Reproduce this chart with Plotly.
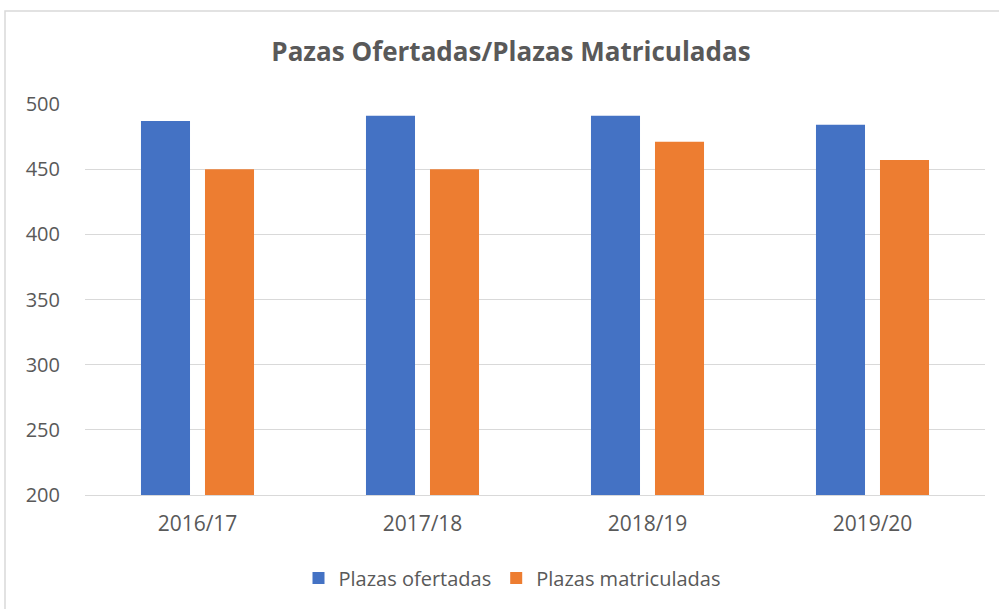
import plotly.graph_objects as go

categories = ["2016/17", "2017/18", "2018/19", "2019/20"]
plazas_ofertadas = [487, 491, 491, 484]
plazas_matriculadas = [450, 450, 471, 457]
y_ticks = [200, 250, 300, 350, 400, 450, 500]

FONT = "Open Sans"
GREY = "#595959"

fig = go.Figure()
fig.add_trace(go.Bar(x=categories, y=plazas_ofertadas, name="Plazas ofertadas",
                     marker=dict(color="#4472C4", line=dict(width=0))))
fig.add_trace(go.Bar(x=categories, y=plazas_matriculadas, name="Plazas matriculadas",
                     marker=dict(color="#ED7D31", line=dict(width=0))))

L, R, T, B = 85, 985, 104, 495
W, H = 999, 609
pw, ph = R - L, B - T

def px(x):
    return (x - L) / pw

def py(y):
    return (B - y) / ph

fig.update_layout(
    width=W, height=H,
    margin=dict(l=L, r=W - R, t=T, b=H - B, autoexpand=False),
    paper_bgcolor="white", plot_bgcolor="white",
    barmode="group", bargap=0.431, bargroupgap=0.234,
    font=dict(family=FONT, color=GREY, size=19),
    title=dict(text="<b>Pazas Ofertadas/Plazas Matriculadas</b>",
               x=(511 - L) / pw, xref="paper", xanchor="center",
               y=1 - 52 / H, yanchor="middle",
               font=dict(family=FONT, size=26, color=GREY)),
    xaxis=dict(showgrid=False, showline=True, linecolor="#D9D9D9", linewidth=1,
               ticks="", tickfont=dict(size=21, color=GREY), ticklabelstandoff=10),
    yaxis=dict(range=[200, 500], tickvals=y_ticks, showgrid=True,
               gridcolor="#D9D9D9", gridwidth=1, zeroline=False, showline=False,
               ticks="", tickfont=dict(size=20, color=GREY), ticklabelstandoff=24),
    legend=dict(orientation="h", x=px(512), xanchor="center",
                y=py(578), yanchor="middle",
                font=dict(size=20, color=GREY), itemwidth=30,
                traceorder="normal"),
    showlegend=True,
)

fig.add_shape(type="rect", xref="paper", yref="paper",
              x0=px(5), x1=px(1010), y0=py(11), y1=py(620),
              line=dict(color="#D9D9D9", width=1.5), fillcolor="rgba(0,0,0,0)",
              layer="below")

fig.write_html("out.html", config={"displayModeBar": False},
               post_script="document.body.style.margin='0';")
